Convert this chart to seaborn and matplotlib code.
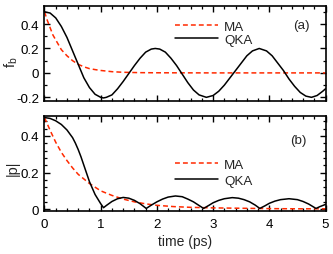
import numpy as np
import pandas as pd
import matplotlib
matplotlib.use("Agg")
import matplotlib.pyplot as plt
import seaborn as sns
from matplotlib.ticker import MultipleLocator

# ---- data ----
t_fb_qka = [0.0, 0.1, 0.2, 0.3, 0.4, 0.5, 0.6, 0.7, 0.8, 0.9, 1.0, 1.05, 1.1, 1.2, 1.3,
            1.4, 1.5, 1.6, 1.7, 1.8, 1.9, 1.97, 2.05, 2.15, 2.25, 2.35, 2.45, 2.55, 2.65,
            2.75, 2.88, 3.0, 3.1, 3.2, 3.3, 3.4, 3.5, 3.6, 3.7, 3.82, 3.95, 4.05, 4.15,
            4.25, 4.35, 4.45, 4.55, 4.65, 4.75, 4.85, 4.95, 5.0]
fb_qka = [0.50, 0.49, 0.45, 0.38, 0.29, 0.18, 0.07, -0.04, -0.12, -0.175, -0.20, -0.205,
          -0.20, -0.18, -0.13, -0.07, -0.005, 0.06, 0.12, 0.17, 0.195, 0.20, 0.195, 0.17,
          0.12, 0.06, -0.01, -0.08, -0.14, -0.18, -0.20, -0.185, -0.15, -0.10, -0.04, 0.02,
          0.08, 0.14, 0.18, 0.20, 0.18, 0.14, 0.08, 0.02, -0.05, -0.11, -0.16, -0.19, -0.20,
          -0.185, -0.15, -0.13]

t_fb_ma = [0.0, 0.05, 0.1, 0.15, 0.2, 0.3, 0.4, 0.5, 0.6, 0.7, 0.8, 0.9, 1.0, 1.2, 1.4,
           1.7, 2.0, 3.0, 4.0, 5.0]
fb_ma = [0.50, 0.43, 0.37, 0.31, 0.27, 0.19, 0.14, 0.10, 0.07, 0.05, 0.035, 0.027, 0.02,
         0.01, 0.005, 0.002, 0.001, 0.0, 0.0, 0.0]

t_p_qka = [0.0, 0.1, 0.2, 0.3, 0.4, 0.5, 0.55, 0.6, 0.65, 0.7, 0.75, 0.8, 0.9, 1.0, 1.05,
           1.1, 1.2, 1.3, 1.4, 1.5, 1.6, 1.7, 1.81, 1.9, 2.0, 2.1, 2.2, 2.33, 2.45, 2.55,
           2.65, 2.75, 2.83, 2.92, 3.0, 3.1, 3.2, 3.34, 3.45, 3.55, 3.65, 3.75, 3.83, 3.92,
           4.0, 4.1, 4.2, 4.35, 4.5, 4.6, 4.7, 4.83, 4.9, 5.0]
p_qka = [0.50, 0.495, 0.482, 0.462, 0.432, 0.39, 0.36, 0.325, 0.285, 0.24, 0.195, 0.15,
         0.08, 0.03, 0.008, 0.02, 0.042, 0.057, 0.064, 0.06, 0.048, 0.03, 0.004, 0.022,
         0.04, 0.055, 0.066, 0.072, 0.068, 0.055, 0.04, 0.02, 0.004, 0.02, 0.035, 0.048,
         0.057, 0.063, 0.06, 0.052, 0.04, 0.022, 0.004, 0.018, 0.032, 0.044, 0.052, 0.057,
         0.052, 0.042, 0.028, 0.004, 0.014, 0.026]

t_p_ma = [0.0, 0.1, 0.2, 0.3, 0.4, 0.5, 0.6, 0.7, 0.8, 0.9, 1.0, 1.2, 1.4, 1.6, 1.8, 2.0,
          2.3, 2.6, 3.0, 3.5, 4.0, 4.5, 5.0]
p_ma = [0.50, 0.43, 0.365, 0.31, 0.265, 0.225, 0.19, 0.165, 0.14, 0.12, 0.10, 0.075,
        0.055, 0.04, 0.029, 0.021, 0.014, 0.01, 0.007, 0.005, 0.003, 0.002, 0.002]

series_labels = ["MA", "QKA"]
panel_labels = ["(a)", "(b)"]
x_ticks = [0, 1, 2, 3, 4, 5]

# ---- style ----
sns.set_theme(style="ticks")
plt.rcParams['font.family'] = ['Liberation Sans', 'DejaVu Sans']
plt.rcParams['mathtext.fontset'] = 'custom'
plt.rcParams['mathtext.rm'] = 'Liberation Sans'
plt.rcParams['mathtext.it'] = 'Liberation Sans'

FS = 9.6
RED = '#ff2a00'
fig = plt.figure(figsize=(3.33, 2.55), dpi=100)
ax1 = fig.add_axes([0.1336, 0.600, 0.8440, 0.3737])
ax2 = fig.add_axes([0.1336, 0.1686, 0.8440, 0.3738])

def draw(ax, tm, ym, tq, yq):
    sns.lineplot(x=tm, y=ym, ax=ax, color=RED, lw=1.1, label=series_labels[0],
                 estimator=None, sort=False)
    ax.lines[-1].set_dashes((3.2, 2.0))
    sns.lineplot(x=tq, y=yq, ax=ax, color='black', lw=1.1, label=series_labels[1],
                 estimator=None, sort=False)

draw(ax1, t_fb_ma, fb_ma, t_fb_qka, fb_qka)
draw(ax2, t_p_ma, p_ma, t_p_qka, p_qka)

for ax in (ax1, ax2):
    ax.set_xlim(0, 5)
    ax.set_xticks(x_ticks)
    ax.xaxis.set_minor_locator(MultipleLocator(0.2))
    ax.tick_params(which='both', direction='in', top=True, right=True, colors='black',
                   labelsize=FS)
    ax.tick_params(axis='x', pad=5)
    ax.tick_params(axis='y', pad=4)
    ax.tick_params(which='major', length=4.5, width=1.0)
    ax.tick_params(which='minor', length=2.5, width=0.9)
    for s in ax.spines.values():
        s.set_linewidth(1.2)
        s.set_color('black')
    ax.set_xlabel('')

ax1.set_ylim(-0.23, 0.55)
ax1.set_yticks([-0.2, 0, 0.2, 0.4])
ax1.set_yticklabels(['-0.2', '0', '0.2', '0.4'])
ax1.yaxis.set_minor_locator(MultipleLocator(0.1))
ax1.set_xticklabels([])
ax1.set_ylabel(r'f$_\mathregular{b}$', fontsize=10.5)
ax1.yaxis.set_label_coords(-0.088, 0.42)
ax1.legend(loc='upper left', bbox_to_anchor=(0.445, 0.90), frameon=False,
           fontsize=FS, handlelength=3.2, handletextpad=0.5,
           labelspacing=0.05, borderaxespad=0)
ax1.text(0.915, 0.80, panel_labels[0], transform=ax1.transAxes, fontsize=FS,
         ha='center', va='center')

ax2.set_ylim(-0.01, 0.51)
ax2.set_yticks([0, 0.2, 0.4])
ax2.set_yticklabels(['0', '0.2', '0.4'])
ax2.yaxis.set_minor_locator(MultipleLocator(0.04))
ax2.set_xticklabels([str(v) for v in x_ticks])
ax2.set_ylabel('|p|', fontsize=10.5)
ax2.yaxis.set_label_coords(-0.088, 0.46)
ax2.set_xlabel('time (ps)', fontsize=10, labelpad=3)
ax2.legend(loc='upper left', bbox_to_anchor=(0.445, 0.61), frameon=False,
           fontsize=FS, handlelength=3.2, handletextpad=0.5,
           labelspacing=0.28, borderaxespad=0)
ax2.text(0.905, 0.74, panel_labels[1], transform=ax2.transAxes, fontsize=FS,
         ha='center', va='center')

fig.savefig('out.png', dpi=100)
